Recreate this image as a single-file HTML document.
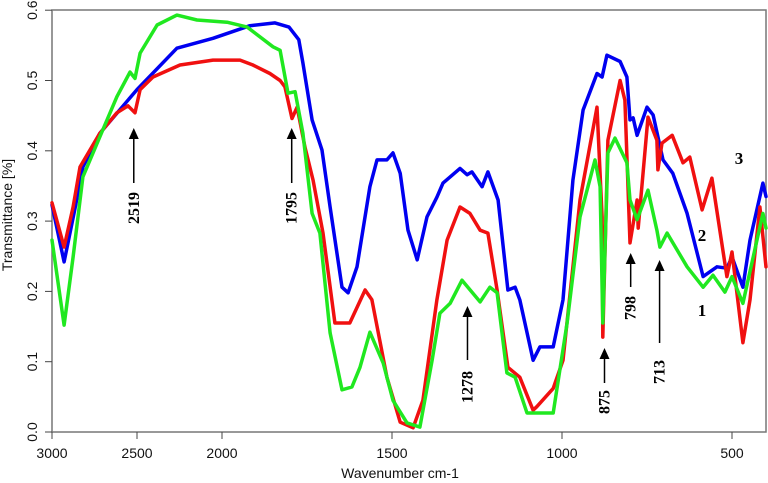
<!DOCTYPE html>
<html><head><meta charset="utf-8"><style>
html,body{margin:0;padding:0;background:#fff;}
svg{display:block;}
</style></head><body>
<svg id="chart" width="768" height="483" xmlns="http://www.w3.org/2000/svg" font-family="Liberation Sans, sans-serif"></svg>
<script>
const xTicks=[3000,2500,2000,1500,1000,500];
const yTicks=[0.0,0.1,0.2,0.3,0.4,0.5,0.6];
const yTickLabels=["0.0","0.1","0.2","0.3","0.4","0.5","0.6"];
const blueW=[3000,2929,2865,2818,2718,2500,2265,2053,1918,1844,1803,1774,1762,1735,1706,1682,1647,1629,1603,1565,1544,1515,1497,1476,1453,1426,1397,1368,1350,1300,1279,1265,1235,1218,1188,1159,1138,1124,1085,1065,1026,997,968,938,897,882,868,829,809,800,791,779,750,732,703,674,632,585,544,515,500,468,447,409,400];
const blueV=[.323,.242,.318,.377,.425,.487,.546,.560,.578,.582,.576,.558,.525,.444,.401,.320,.206,.198,.235,.349,.387,.387,.397,.368,.287,.245,.306,.334,.354,.375,.366,.370,.349,.370,.330,.202,.206,.188,.102,.121,.121,.188,.358,.458,.510,.505,.536,.527,.505,.444,.447,.422,.462,.451,.387,.368,.311,.221,.235,.233,.249,.206,.273,.354,.335];
const redW=[3000,2929,2876,2835,2718,2618,2553,2512,2482,2406,2247,2053,1947,1909,1859,1829,1815,1794,1779,1756,1732,1703,1668,1624,1579,1559,1515,1476,1438,1409,1368,1338,1300,1271,1241,1218,1191,1159,1124,1085,1074,1026,997,947,897,882,880,865,829,815,800,779,776,747,721,718,706,676,644,624,588,559,515,500,468,447,418,400];
const redV=[.326,.263,.320,.377,.425,.454,.464,.454,.487,.505,.522,.529,.529,.522,.510,.500,.491,.446,.462,.405,.358,.283,.155,.155,.202,.188,.078,.014,.006,.045,.188,.273,.320,.311,.287,.283,.202,.092,.078,.031,.036,.062,.102,.330,.462,.306,.135,.415,.500,.472,.269,.330,.290,.448,.415,.373,.411,.422,.383,.391,.316,.361,.221,.256,.127,.188,.320,.235];
const greenW=[3000,2929,2876,2818,2718,2618,2541,2512,2482,2382,2265,2147,1985,1926,1850,1829,1806,1785,1762,1735,1712,1682,1647,1618,1594,1565,1526,1497,1456,1418,1382,1359,1329,1294,1241,1212,1191,1162,1138,1103,1065,1026,985,947,903,888,880,865,844,809,800,779,747,721,712,691,632,585,556,521,500,468,409,400];
const greenV=[.273,.152,.249,.363,.420,.477,.512,.503,.539,.579,.593,.586,.583,.576,.548,.543,.482,.484,.425,.311,.283,.141,.060,.064,.092,.142,.098,.045,.013,.007,.102,.169,.183,.216,.185,.206,.198,.084,.078,.027,.027,.027,.155,.306,.387,.349,.155,.397,.418,.383,.330,.302,.344,.287,.263,.283,.235,.206,.223,.199,.221,.183,.311,.290];
const annW=[2519,1795,1278,875,798,713];
const annLabels=["2519","1795","1278","875","798","713"];

const NS="http://www.w3.org/2000/svg";
const svg=document.getElementById('chart');
const L=52,R=766,T=10,B=432;
function xs(w){return w>=2000?L+(3000-w)*0.17:222+(2000-w)*0.34;}
function ys(v){return B-v*703;}
function mk(tag,attrs,parent){const e=document.createElementNS(NS,tag);for(const k in attrs)e.setAttribute(k,attrs[k]);(parent||svg).appendChild(e);return e;}

const frame=mk('rect',{x:L,y:T,width:R-L,height:B-T,fill:'none',stroke:'#777','stroke-width':1.5});



xTicks.forEach((t,i)=>{
  const x=xs(t);
  const tk=mk('line',{x1:x,y1:B,x2:x,y2:B+7,stroke:'#444','stroke-width':1});
  
  
  const lb=mk('text',{x:x,y:458,'text-anchor':'middle','font-size':14,fill:'#111'});
  lb.textContent=t;
  
  
});
yTicks.forEach((t,i)=>{
  const y=ys(t);
  const tk=mk('line',{x1:L-7,y1:y,x2:L,y2:y,stroke:'#444','stroke-width':1});
  
  
  const lb=mk('text',{x:0,y:0,'text-anchor':'middle','font-size':14,fill:'#111',transform:`translate(37,${y}) rotate(-90)`});
  lb.textContent=yTickLabels[i];
  
  
});
const xt=mk('text',{x:400,y:478,'text-anchor':'middle','font-size':14,fill:'#111'});
xt.textContent='Wavenumber cm-1';


const yt=mk('text',{x:0,y:0,'text-anchor':'middle','font-size':14,fill:'#111',transform:'translate(12,215) rotate(-90)'});
yt.textContent='Transmittance [%]';



function series(W,V,color,name){
  const d=W.map((w,i)=>(i?'L':'M')+xs(w).toFixed(1)+','+ys(V[i]).toFixed(1)).join(' ');
  const p=mk('path',{d:d,fill:'none',stroke:color,'stroke-width':3.5,'stroke-linejoin':'round','stroke-linecap':'round'});
  
  
}
series(blueW,blueV,'#0000f0','series-3-blue');
series(redW,redV,'#f01010','series-2-red');
series(greenW,greenV,'#20e820','series-1-green');

// annotations: [tipY, tailY, labelY]
const annPos=[[128,183,208],[128,183,208],[306,360,387],[348,383,402],[253,287,308],[260,343,372]];
annW.forEach((w,i)=>{
  const x=xs(w);const [ty,tl,ly]=annPos[i];
  const g=mk('g',{});
  
  
  mk('line',{x1:x,y1:ty+8,x2:x,y2:tl,stroke:'#000','stroke-width':1.5},g);
  mk('polygon',{points:`${x},${ty} ${x-5},${ty+11} ${x+5},${ty+11}`,fill:'#000'},g);
  const t=mk('text',{x:0,y:0,'text-anchor':'middle','font-size':16,'font-weight':'bold','font-family':'Liberation Serif, serif',fill:'#000',transform:`translate(${x+5},${ly}) rotate(-90)`},g);
  t.textContent=annLabels[i];
});
[['3',739,164],['2',702,241],['1',702,316]].forEach(a=>{
  const t=mk('text',{x:a[1],y:a[2],'text-anchor':'middle','font-size':17,'font-weight':'bold','font-family':'Liberation Serif, serif',fill:'#000'});
  t.textContent=a[0];
  
  
});
</script>
</body></html>
